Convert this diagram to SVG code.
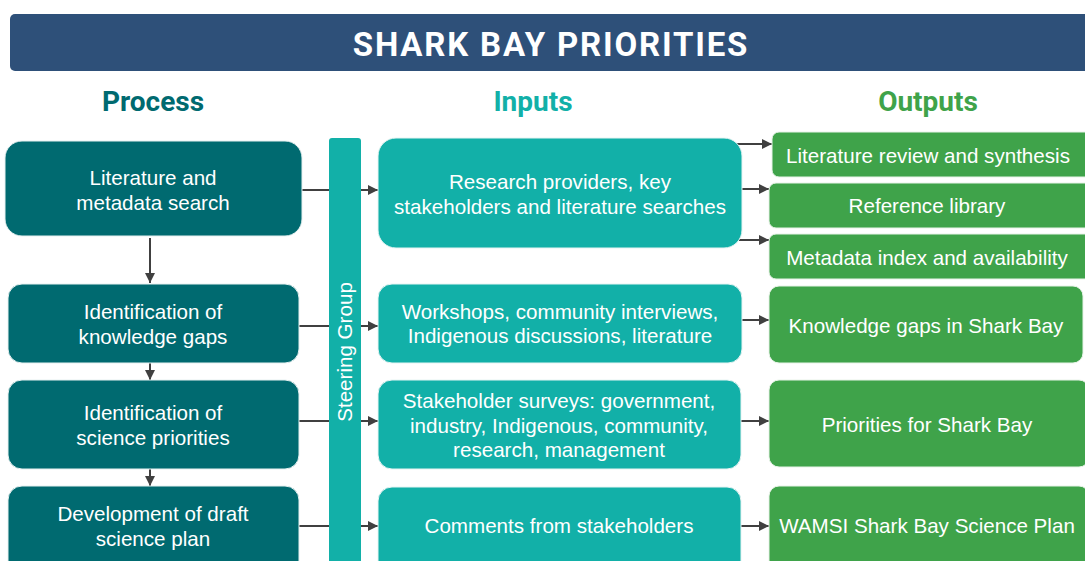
<svg xmlns="http://www.w3.org/2000/svg" width="1085" height="561" viewBox="0 0 1085 561">
<defs>
<marker id="ah" viewBox="0 0 10 10" refX="10" refY="5" markerWidth="10" markerHeight="10" markerUnits="userSpaceOnUse" orient="auto">
<path d="M0,0 L10,5 L0,10 z" fill="#404040"/>
</marker>
<style>
.proc{fill:#006a70;stroke:#e6f0f0;stroke-width:1}
.inp{fill:#12b0a8;stroke:#e6f4f3;stroke-width:1}
.out{fill:#3fa34a;stroke:#e8f3e8;stroke-width:1}
.t{font-family:"Liberation Sans",Arial,sans-serif;font-size:20.6px;fill:#ffffff;text-anchor:middle}
.h{font-family:Roboto,"Liberation Sans",sans-serif;font-weight:700;font-size:28px;text-anchor:middle}
.c{stroke:#404040;stroke-width:2;fill:none}
</style>
</defs>
<rect width="1085" height="561" fill="#ffffff"/>
<g id="title">
<rect x="10" y="14" width="1090" height="57" rx="5" fill="#2e5079"/>
<text x="551" y="56" font-family="Roboto,'Liberation Sans',sans-serif" font-weight="700" font-size="33" fill="#ffffff" text-anchor="middle" letter-spacing="1.8">SHARK BAY PRIORITIES</text>
</g>
<g id="headers">
<text class="h" x="153" y="111" fill="#006a70">Process</text>
<text class="h" x="533" y="111" fill="#12b0a8">Inputs</text>
<text class="h" x="928" y="111" fill="#3fa34a">Outputs</text>
</g>
<g id="connectors">
<line class="c" x1="302" y1="190" x2="378" y2="190" marker-end="url(#ah)"/>
<line class="c" x1="299" y1="326" x2="378" y2="326" marker-end="url(#ah)"/>
<line class="c" x1="299" y1="421" x2="378" y2="421" marker-end="url(#ah)"/>
<line class="c" x1="299" y1="526" x2="378" y2="526" marker-end="url(#ah)"/>
<line class="c" x1="150" y1="238" x2="150" y2="283" marker-end="url(#ah)"/>
<line class="c" x1="150" y1="363" x2="150" y2="380" marker-end="url(#ah)"/>
<line class="c" x1="150" y1="469" x2="150" y2="486" marker-end="url(#ah)"/>
<line class="c" x1="736" y1="144" x2="772" y2="144" marker-end="url(#ah)"/>
<line class="c" x1="740" y1="189" x2="769" y2="189" marker-end="url(#ah)"/>
<line class="c" x1="736" y1="240" x2="769" y2="240" marker-end="url(#ah)"/>
<line class="c" x1="741" y1="320" x2="769" y2="320" marker-end="url(#ah)"/>
<line class="c" x1="741" y1="421" x2="769" y2="421" marker-end="url(#ah)"/>
<line class="c" x1="741" y1="526" x2="769" y2="526" marker-end="url(#ah)"/>
</g>
<g id="steering">
<rect x="329" y="138" width="32" height="440" rx="3" fill="#12b0a8"/>
<text class="t" transform="translate(352,352) rotate(-90)" x="0" y="0">Steering Group</text>
</g>
<g id="p1"><rect class="proc" x="5" y="141" width="297" height="95" rx="17"/>
<text class="t" x="153" y="185">Literature and</text><text class="t" x="153" y="210">metadata search</text></g>
<g id="p2"><rect class="proc" x="8" y="284" width="291" height="79" rx="14"/>
<text class="t" x="153" y="319">Identification of</text><text class="t" x="153" y="344">knowledge gaps</text></g>
<g id="p3"><rect class="proc" x="8" y="380" width="291" height="89" rx="14"/>
<text class="t" x="153" y="420">Identification of</text><text class="t" x="153" y="445">science priorities</text></g>
<g id="p4"><rect class="proc" x="8" y="486" width="291" height="100" rx="14"/>
<text class="t" x="153" y="521">Development of draft</text><text class="t" x="153" y="546">science plan</text></g>
<g id="i1"><rect class="inp" x="378" y="138" width="364" height="110" rx="18"/>
<text class="t" x="560" y="189">Research providers, key</text><text class="t" x="560" y="214">stakeholders and literature searches</text></g>
<g id="i2"><rect class="inp" x="378" y="284" width="364" height="79" rx="14"/>
<text class="t" x="560" y="319">Workshops, community interviews,</text><text class="t" x="560" y="343">Indigenous discussions, literature</text></g>
<g id="i3"><rect class="inp" x="378" y="380" width="363" height="89" rx="14"/>
<text class="t" x="559" y="408">Stakeholder surveys: government,</text><text class="t" x="559" y="433">industry, Indigenous, community,</text><text class="t" x="559" y="457">research, management</text></g>
<g id="i4"><rect class="inp" x="378" y="487" width="363" height="100" rx="14"/>
<text class="t" x="559" y="533">Comments from stakeholders</text></g>
<g id="o1"><rect class="out" x="772" y="132" width="320" height="45" rx="7"/>
<text class="t" x="928" y="163">Literature review and synthesis</text></g>
<g id="o2"><rect class="out" x="769" y="183" width="323" height="45" rx="7"/>
<text class="t" x="927" y="213">Reference library</text></g>
<g id="o3"><rect class="out" x="769" y="234" width="323" height="45" rx="7"/>
<text class="t" x="927" y="265">Metadata index and availability</text></g>
<g id="o4"><rect class="out" x="769" y="286" width="314" height="77" rx="10"/>
<text class="t" x="926" y="333">Knowledge gaps in Shark Bay</text></g>
<g id="o5"><rect class="out" x="769" y="380" width="320" height="87" rx="10"/>
<text class="t" x="927" y="432">Priorities for Shark Bay</text></g>
<g id="o6"><rect class="out" x="769" y="486" width="320" height="100" rx="10"/>
<text class="t" x="927" y="533">WAMSI Shark Bay Science Plan</text></g>
</svg>
